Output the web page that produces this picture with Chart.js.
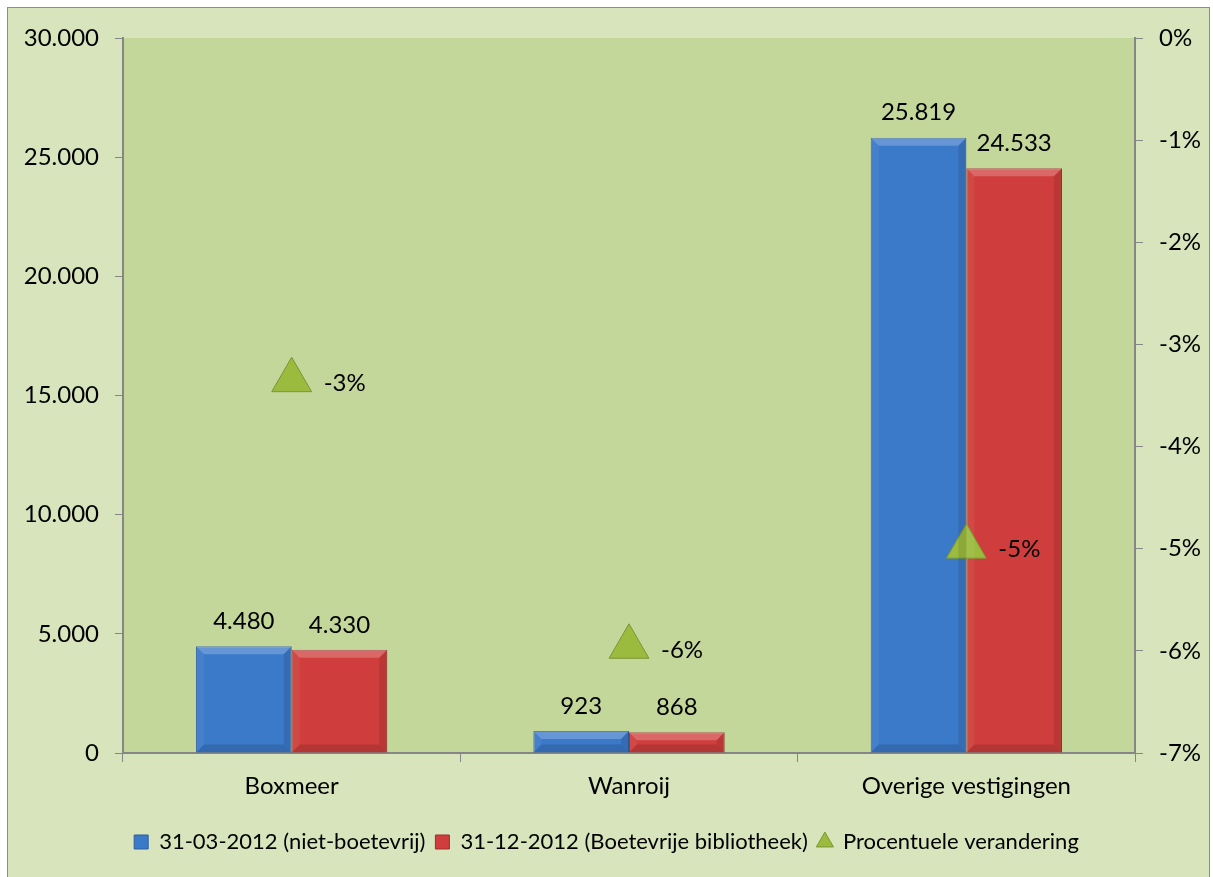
<!DOCTYPE html>
<html>
<head>
<meta charset="utf-8">
<script src="https://cdn.jsdelivr.net/npm/chart.js@4"></script>
<style>
  html, body { margin: 0; padding: 0; background: #fff; }
  #wrap { width: 1213px; height: 877px; }
</style>
</head>
<body>
<div id="wrap"><canvas id="chart" width="1213" height="877"></canvas></div>
<script>
const categories = ['Boxmeer', 'Wanroij', 'Overige vestigingen'];
const before = [4480, 923, 25819];
const after = [4330, 868, 24533];
const change = [-0.0335, -0.0596, -0.0498];
const seriesNames = ['31-03-2012 (niet-boetevrij)', '31-12-2012 (Boetevrije bibliotheek)', 'Procentuele verandering'];

const FONT = 'Lato, "Open Sans", sans-serif';
const axisGray = '#868686';

function dotted(n) {
  return String(Math.round(n)).replace(/\B(?=(\d{3})+(?!\d))/g, '.');
}
function pct(v) {
  return Math.round(v * 100) + '%';
}

// background: outer frame and plot area
const backdrop = {
  id: 'backdrop',
  beforeDraw(chart) {
    const { ctx, chartArea: a } = chart;
    ctx.save();
    ctx.fillStyle = '#ffffff';
    ctx.fillRect(0, 0, chart.width, chart.height);
    ctx.fillStyle = '#d8e4bc';
    ctx.fillRect(7, 7, chart.width - 10, chart.height);
    ctx.strokeStyle = '#8c8c8c';
    ctx.lineWidth = 1;
    ctx.strokeRect(7.5, 7.5, chart.width - 11, chart.height + 5);
    ctx.fillStyle = '#c4d79b';
    ctx.fillRect(a.left, a.top, a.right - a.left, a.bottom - a.top);
    ctx.restore();
  }
};

// bevel look on bars + value labels
const labels = {
  id: 'labels',
  afterDatasetsDraw(chart) {
    const ctx = chart.ctx;
    ctx.save();
    [0, 1].forEach(i => {
      chart.getDatasetMeta(i).data.forEach(bar => {
        const w = bar.width, l = bar.x - w / 2, t = bar.y, b = bar.base;
        const h = b - t;
        const e = Math.min(8, h / 2);
        ctx.fillStyle = 'rgba(255,255,255,0.22)';
        ctx.beginPath();
        ctx.moveTo(l, t); ctx.lineTo(l + w, t); ctx.lineTo(l + w - e, t + e); ctx.lineTo(l + e, t + e);
        ctx.closePath(); ctx.fill();
        ctx.fillStyle = 'rgba(0,0,0,0.10)';
        ctx.beginPath();
        ctx.moveTo(l + w, t); ctx.lineTo(l + w, b); ctx.lineTo(l + w - e, b - e); ctx.lineTo(l + w - e, t + e);
        ctx.closePath(); ctx.fill();
        ctx.fillStyle = 'rgba(0,0,0,0.13)';
        ctx.beginPath();
        ctx.moveTo(l, b); ctx.lineTo(l + w, b); ctx.lineTo(l + w - e, b - e); ctx.lineTo(l + e, b - e);
        ctx.closePath(); ctx.fill();
        ctx.fillStyle = 'rgba(255,255,255,0.06)';
        ctx.beginPath();
        ctx.moveTo(l, t); ctx.lineTo(l + e, t + e); ctx.lineTo(l + e, b - e); ctx.lineTo(l, b);
        ctx.closePath(); ctx.fill();
      });
    });
    ctx.fillStyle = '#000';
    ctx.font = '24px ' + FONT;
    ctx.textAlign = 'center';
    ctx.textBaseline = 'middle';
    [0, 1].forEach(i => {
      const vals = chart.data.datasets[i].data;
      chart.getDatasetMeta(i).data.forEach((bar, j) => {
        ctx.fillText(dotted(vals[j]), bar.x, bar.y - 25);
      });
    });
    ctx.textAlign = 'left';
    chart.getDatasetMeta(2).data.forEach((pt, j) => {
      ctx.fillText(pct(change[j]), pt.x + 32, pt.y + 3);
    });
    ctx.restore();
  }
};

new Chart(document.getElementById('chart'), {
  type: 'bar',
  data: {
    labels: categories,
    datasets: [
      {
        label: seriesNames[0],
        data: before,
        backgroundColor: '#3b79c9',
        borderColor: '#2d5f9e',
        borderWidth: 1,
        pointStyle: 'rect',
        yAxisID: 'y',
        order: 2
      },
      {
        label: seriesNames[1],
        data: after,
        backgroundColor: '#cf3e3c',
        borderColor: '#9c2e2c',
        borderWidth: 1,
        pointStyle: 'rect',
        yAxisID: 'y',
        order: 2
      },
      {
        type: 'line',
        label: seriesNames[2],
        data: change,
        yAxisID: 'y1',
        showLine: false,
        pointStyle: 'triangle',
        pointRadius: 23,
        pointHoverRadius: 23,
        backgroundColor: '#9bbb3f',
        borderColor: '#7a9632',
        borderWidth: 1,
        order: 1
      }
    ]
  },
  plugins: [backdrop, labels],
  options: {
    responsive: false,
    animation: false,
    events: [],
    layout: { padding: { left: 0, right: 0, top: 38, bottom: 14 } },
    datasets: {
      bar: { categoryPercentage: 0.567, barPercentage: 1 }
    },
    plugins: {
      tooltip: { enabled: false },
      legend: {
        position: 'bottom',
        labels: {
          usePointStyle: true,
          boxWidth: 14,
          boxHeight: 14,
          padding: 10,
          color: '#000',
          font: { family: FONT, size: 22 },
          sort: (a, b) => a.datasetIndex - b.datasetIndex
        }
      }
    },
    scales: {
      x: {
        afterFit(s) { s.height = 68; },
        border: { display: true, color: axisGray, width: 2 },
        grid: { display: true, drawOnChartArea: false, drawTicks: true, tickLength: 9, color: axisGray, lineWidth: 1, offset: true },
        ticks: { color: '#000', padding: 10, font: { family: FONT, size: 24 } }
      },
      y: {
        position: 'left',
        min: 0,
        max: 30000,
        afterFit(s) { s.width = 123; },
        border: { display: true, color: axisGray, width: 2 },
        grid: { display: true, drawOnChartArea: false, drawTicks: true, tickLength: 8, color: axisGray },
        ticks: { stepSize: 5000, color: '#000', padding: 16, font: { family: FONT, size: 24 }, callback: v => dotted(v) }
      },
      y1: {
        position: 'right',
        min: -0.07,
        max: 0,
        afterFit(s) { s.width = 78; },
        border: { display: true, color: axisGray, width: 2 },
        grid: { display: true, drawOnChartArea: false, drawTicks: true, tickLength: 8, color: axisGray },
        ticks: { stepSize: 0.01, color: '#000', padding: 16, font: { family: FONT, size: 24 }, callback: v => pct(v) }
      }
    }
  }
});
</script>
</body>
</html>
